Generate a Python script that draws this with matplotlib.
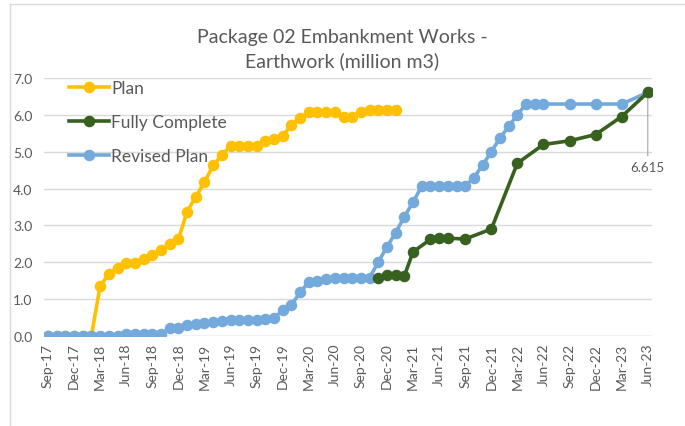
import matplotlib.pyplot as plt
from matplotlib.lines import Line2D

plt.rcParams['font.family'] = ['Lato', 'DejaVu Sans']

# month index 0 = Sep-17
tick_labels = ['Sep-17', 'Dec-17', 'Mar-18', 'Jun-18', 'Sep-18', 'Dec-18',
               'Mar-19', 'Jun-19', 'Sep-19', 'Dec-19', 'Mar-20', 'Jun-20',
               'Sep-20', 'Dec-20', 'Mar-21', 'Jun-21', 'Sep-21', 'Dec-21',
               'Mar-22', 'Jun-22', 'Sep-22', 'Dec-22', 'Mar-23', 'Jun-23']

plan_months = list(range(0, 41))
plan_vals = [0, 0, 0, 0, 0, 0, 1.35, 1.68, 1.85, 1.98, 1.98, 2.08, 2.2, 2.33,
             2.48, 2.62, 3.37, 3.78, 4.17, 4.63, 4.92, 5.15, 5.17, 5.17, 5.15,
             5.29, 5.35, 5.42, 5.74, 5.92, 6.07, 6.07, 6.07, 6.07, 5.96, 5.96,
             6.09, 6.13, 6.13, 6.13, 6.13]

done_months = [38, 39, 40, 41, 42, 44, 45, 46, 48, 51, 54, 57, 60, 63, 66, 69]
done_vals = [1.57, 1.66, 1.66, 1.63, 2.28, 2.62, 2.65, 2.65, 2.63, 2.9, 4.69,
             5.2, 5.3, 5.47, 5.96, 6.615]

revised_months = list(range(0, 58)) + [60, 63, 66, 69]
revised_vals = [0, 0, 0, 0, 0, 0, 0, 0, 0, 0.05, 0.05, 0.05, 0.05, 0.05,
                0.2, 0.2, 0.3, 0.32, 0.34, 0.36, 0.39, 0.42, 0.42, 0.42, 0.43,
                0.45, 0.47, 0.7, 0.83, 1.18, 1.46, 1.5, 1.53, 1.58, 1.58, 1.58,
                1.58, 1.58, 2.0, 2.42, 2.8, 3.24, 3.63, 4.07, 4.07, 4.07, 4.07,
                4.07, 4.07, 4.3, 4.64, 5.0, 5.38, 5.69, 6.01, 6.3, 6.3, 6.3,
                6.3, 6.3, 6.3, 6.615]

grey = '#595959'
fig = plt.figure(figsize=(6.85, 4.27), dpi=100)
ax = fig.add_axes([0.0637, 0.2115, 0.8883, 0.6028])

ax.plot(plan_months, plan_vals, color='#FFC000', lw=2.6, marker='o', ms=7.3, label='Plan')
ax.plot(revised_months, revised_vals, color='#74A9DC', lw=2.6, marker='o', ms=7.3,
        label='Revised Plan', zorder=3)
ax.plot(done_months, done_vals, color='#38601F', lw=2.6, marker='o', ms=7.3,
        label='Fully Complete', zorder=4)

ax.set_xlim(-0.5, 69.5)
ax.set_ylim(0, 7)
ax.set_yticks([0, 1, 2, 3, 4, 5, 6, 7])
ax.set_yticklabels([f'{v:.1f}' for v in range(8)])
ax.set_xticks(range(0, 70, 3))
ax.set_xticklabels(tick_labels, rotation=90)
ax.tick_params(length=0, colors=grey, labelsize=10)
ax.tick_params(axis='y', pad=8, labelsize=10)
ax.tick_params(axis='x', pad=5)
ax.grid(axis='y', color='#d9d9d9', lw=1)
ax.set_axisbelow(True)
for s in ax.spines.values():
    s.set_visible(False)
ax.axhline(0, color='#d9d9d9', lw=1, zorder=1)

# data label on the last point
ax.annotate(f'{done_vals[-1]:.3f}', xy=(done_months[-1], done_vals[-1]),
            xytext=(0, -54), textcoords='offset points', ha='center', va='center',
            color=grey, fontsize=9.5,
            arrowprops=dict(arrowstyle='-', color='#a6a6a6', lw=0.8, shrinkA=2, shrinkB=0))

h, l = ax.get_legend_handles_labels()
order = [0, 2, 1]
ax.legend([h[i] for i in order], [l[i] for i in order], loc='upper left',
          bbox_to_anchor=(0.042, 0.995), frameon=False, fontsize=12.5,
          labelspacing=1.05, handlelength=2.3, handletextpad=0.12,
          borderpad=0, borderaxespad=0, labelcolor=grey)

fig.text(0.5, 0.884, 'Package 02 Embankment Works -\nEarthwork (million m3)',
         ha='center', va='center', fontsize=14, color=grey, linespacing=1.4)

# chart area border
fig.add_artist(Line2D([10 / 685, 10 / 685], [0, 422 / 427], color='#d9d9d9', lw=1))
fig.add_artist(Line2D([10 / 685, 1], [422 / 427, 422 / 427], color='#d9d9d9', lw=1))

plt.savefig('out.png')
